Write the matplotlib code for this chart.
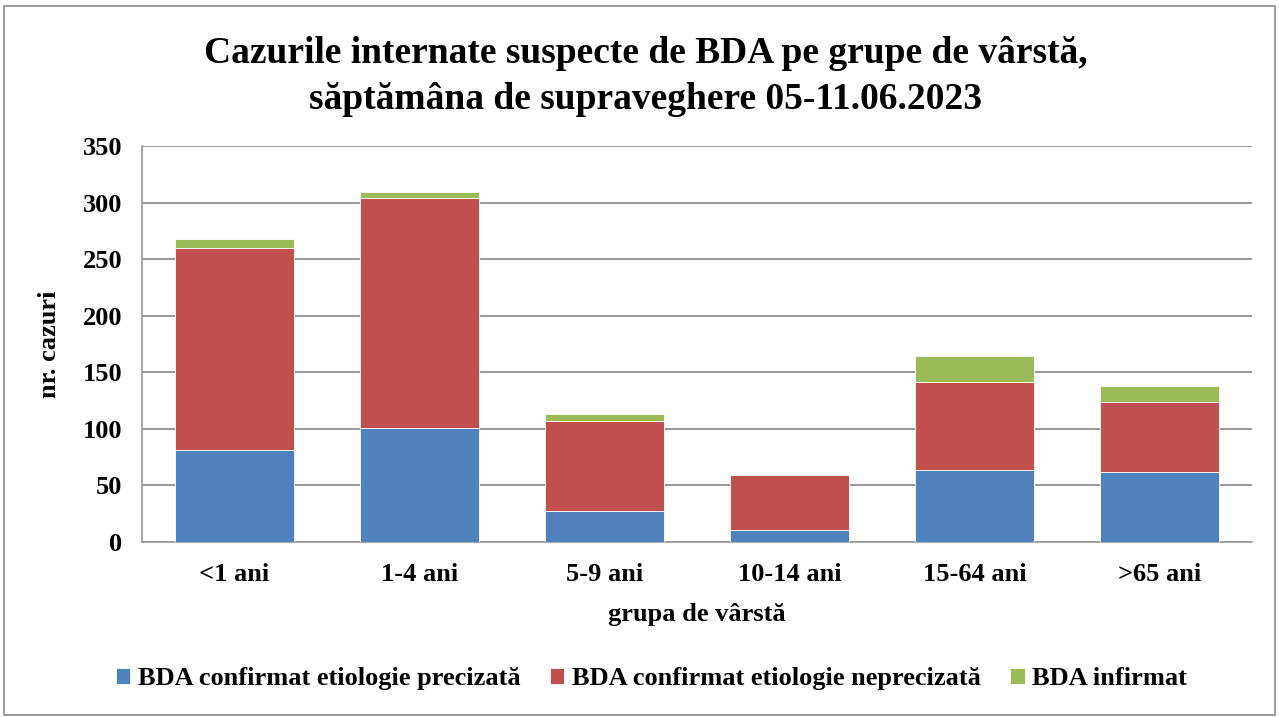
import matplotlib.pyplot as plt
import numpy as np
from matplotlib.patches import Rectangle

plt.rcParams['font.family'] = ['Liberation Serif', 'DejaVu Serif']
plt.rcParams['font.weight'] = 'bold'
plt.rcParams['axes.labelweight'] = 'bold'

# age groups and case counts
grupe = ['<1 ani', '1-4 ani', '5-9 ani', '10-14 ani', '15-64 ani', '>65 ani']
precizata = [81, 101, 27, 11, 64, 62]
neprecizata = [179, 203, 80, 48, 77, 62]
infirmat = [8, 5, 6, 1, 23, 14]

serii = ['BDA confirmat etiologie precizată',
         'BDA confirmat etiologie neprecizată',
         'BDA infirmat']
culori = ['#4F81BD', '#C0504D', '#9BBB59']

fig = plt.figure(figsize=(12.79, 7.17), dpi=100)
ax = fig.add_axes([142 / 1279, 175 / 717, 1110 / 1279, 396 / 717])

x = np.arange(len(grupe))
bottom = np.zeros(len(grupe))
for vals, nume, c in zip([precizata, neprecizata, infirmat], serii, culori):
    ax.bar(x, vals, 0.645, bottom=bottom, color=c, label=nume,
           edgecolor='white', linewidth=0.6, zorder=3)
    bottom += np.array(vals)

ax.set_xlim(-0.5, len(grupe) - 0.5)
ax.set_ylim(0, 350)
ax.set_yticks(range(0, 351, 50))
ax.set_xticks(x)
ax.set_xticklabels(grupe)
ax.tick_params(axis='both', length=0, labelsize=19)
ax.tick_params(axis='x', pad=15)
ax.tick_params(axis='y', pad=14)
ax.grid(axis='y', color='#868686', linewidth=1.2, zorder=0)

for s in ['top', 'right']:
    ax.spines[s].set_visible(False)
for s in ['left', 'bottom']:
    ax.spines[s].set_color('#999999')
    ax.spines[s].set_linewidth(1.2)

ax.set_xlabel('grupa de vârstă', fontsize=19, labelpad=12)
ax.set_ylabel('nr. cazuri', fontsize=19, labelpad=16)

fig.text(0.505, 0.95, 'Cazurile internate suspecte de BDA pe grupe de vârstă,\n'
         'săptămâna de supraveghere 05-11.06.2023',
         ha='center', va='top', fontsize=27, linespacing=1.4)

ax.legend(loc='center', bbox_to_anchor=(0.459, -0.345), ncol=3, frameon=False,
          fontsize=19, handlelength=0.55, handleheight=0.55, handletextpad=0.3,
          columnspacing=1.1)

fig.patches.append(Rectangle((0.003, 0.003), 0.994, 0.988, transform=fig.transFigure,
                             fill=False, edgecolor='#8c8c8c', linewidth=1.2))

fig.savefig('out.png', dpi=100, facecolor='white')
